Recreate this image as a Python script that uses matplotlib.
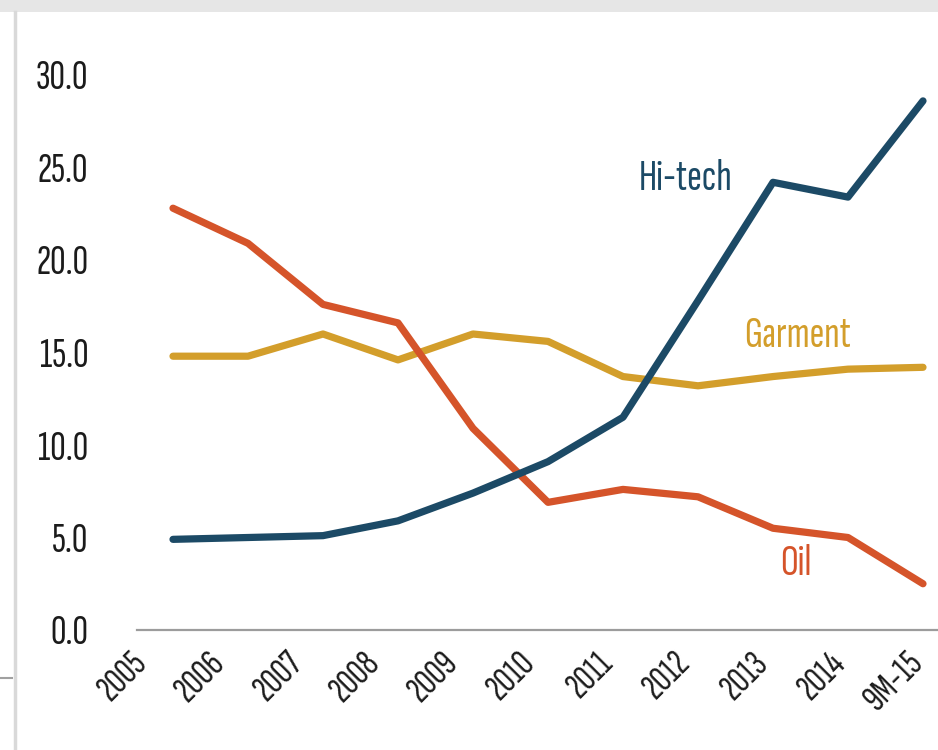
import matplotlib
matplotlib.use("Agg")
import matplotlib.pyplot as plt
from matplotlib.transforms import ScaledTranslation
from matplotlib.patches import Rectangle
from matplotlib.lines import Line2D
import numpy as np

# ---- data ----
categories = ["2005", "2006", "2007", "2008", "2009", "2010", "2011",
              "2012", "2013", "2014", "9M-15"]
hitech = [4.9, 5.0, 5.1, 5.9, 7.4, 9.1, 11.5, 17.8, 24.2, 23.4, 28.6]
garment = [14.8, 14.8, 16.0, 14.6, 16.0, 15.6, 13.7, 13.2, 13.7, 14.1, 14.2]
oil = [22.8, 20.9, 17.6, 16.6, 10.9, 6.9, 7.6, 7.2, 5.5, 5.0, 2.5]
yticks = [0, 5, 10, 15, 20, 25, 30]

C_HI = "#1c4a66"
C_GA = "#d39e2b"
C_OI = "#d5542a"

FONT = ["Sofia Sans Extra Condensed", "Roboto Condensed", "DejaVu Sans"]
plt.rcParams["font.family"] = FONT

W, H = 938, 750
fig = plt.figure(figsize=(W / 100, H / 100), dpi=100)
fig.patch.set_facecolor("white")

# screenshot frame artifacts
fig.add_artist(Rectangle((0, 1 - 12 / H), 1, 12 / H, transform=fig.transFigure,
                         facecolor="#e6e6e6", edgecolor="none"))
fig.add_artist(Line2D([14.5 / W, 14.5 / W], [0, 1 - 12 / H], transform=fig.transFigure,
                      color="#d9d9d9", lw=2.5))
fig.add_artist(Line2D([0, 12 / W], [1 - 678 / H, 1 - 678 / H], transform=fig.transFigure,
                      color="#a0a0a0", lw=1.5))

ymax = 31.0
px_per_unit = 18.5
ax_bottom = (H - 630) / H
ax_height = ymax * px_per_unit / H
ax = fig.add_axes([137 / W, ax_bottom, (W - 137) / W, ax_height])
ax.set_facecolor("none")

x = np.arange(len(categories))
kw = dict(lw=5.2, solid_capstyle="round", solid_joinstyle="round", clip_on=False)
ax.plot(x, garment, color=C_GA, zorder=3, **kw)
ax.plot(x, oil, color=C_OI, zorder=4, **kw)
ax.plot(x, hitech, color=C_HI, zorder=5, **kw)

ax.set_xlim(-0.48, 10.2)
ax.set_ylim(0, ymax)

for s in ["top", "right", "left"]:
    ax.spines[s].set_visible(False)
ax.spines["bottom"].set_color("#9c9c9c")
ax.spines["bottom"].set_linewidth(1.6)

ax.set_yticks(yticks)
ax.set_yticklabels([f"{v:.1f}" for v in yticks], fontsize=31, color="#1b1b1b")
ax.tick_params(axis="y", length=0, pad=35)

ax.set_xticks(x)
ax.set_xticklabels(categories, fontsize=28, color="#1b1b1b", rotation=45,
                   ha="right", va="center", rotation_mode="anchor")
ax.tick_params(axis="x", length=0, pad=20)
for i, lbl in enumerate(ax.get_xticklabels()):
    dx = (-31 + 2.6 * i) / 100.0
    lbl.set_transform(lbl.get_transform() + ScaledTranslation(dx, 0, fig.dpi_scale_trans))

# series labels
ax.text(6.84, 24.4, "Hi-tech", color=C_HI, fontsize=32, ha="center", va="center")
ax.text(8.33, 15.9, "Garment", color=C_GA, fontsize=32, ha="center", va="center")
ax.text(8.30, 3.6, "Oil", color=C_OI, fontsize=32, ha="center", va="center")

fig.savefig("out.png", dpi=100)
